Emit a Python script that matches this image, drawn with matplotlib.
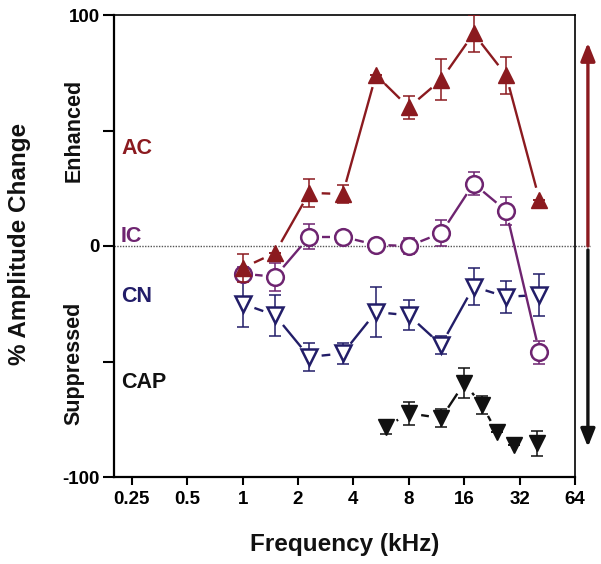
import numpy as np
import matplotlib
matplotlib.use('Agg')
import matplotlib.pyplot as plt

plt.rcParams['font.family'] = ['Liberation Sans', 'DejaVu Sans']
plt.rcParams['font.weight'] = 'bold'

# data (% amplitude change vs frequency in kHz)
freq = [1, 1.5, 2.3, 3.5, 5.3, 8, 12, 18, 27, 41]
ac = [-9.5, -3, 23, 22.5, 74, 60, 72, 92, 74, 20]
ac_err = [6, 0, 6, 4, 0, 5, 9, 8, 8, 0]
ic = [-12, -13.3, 4, 4, 0.5, 0, 5.6, 27, 15.3, -46]
ic_err = [3, 6, 5.5, 0, 0, 3.5, 5.5, 5, 6, 5]
cn = [-25, -30, -48, -46.5, -28.6, -30, -42.8, -17.6, -22, -21.2]
cn_err = [10, 9, 6, 4.5, 11, 6.5, 4, 8, 7, 9]
cap_freq = [6, 8, 12, 16, 20, 24, 30, 40]
cap = [-78.4, -72.4, -74.5, -59.4, -68.8, -80.5, -86, -85.4]
cap_err = [3, 5, 4, 6.5, 4, 0, 0, 5.5]

xticks = [0.25, 0.5, 1, 2, 4, 8, 16, 32, 64]
xticklabels = ['0.25', '0.5', '1', '2', '4', '8', '16', '32', '64']

red = '#8b1a1f'
purple = '#6e2470'
navy = '#221d68'
black = '#111111'

W, H = 601, 564
fig = plt.figure(figsize=(W / 100, H / 100), dpi=100)
ax = fig.add_axes([114 / W, 1 - 477 / H, 461 / W, 462 / H])
ax.set_xscale('log', base=2)
ax.set_xlim(0.2, 64)
ax.set_ylim(-100, 100)


def gapped_line(x, y, color, trim=12, z=2):
    # connect points with segments that stop short of the markers
    pts = ax.transData.transform(np.column_stack([x, y]))
    inv = ax.transData.inverted()
    for p, q in zip(pts[:-1], pts[1:]):
        d = q - p
        L = np.hypot(*d)
        if L <= 2 * trim:
            continue
        u = d / L
        seg = inv.transform(np.array([p + u * trim, q - u * trim]))
        ax.plot(seg[:, 0], seg[:, 1], color=color, lw=1.7, zorder=z,
                solid_capstyle='butt')


def series(x, y, err, color, marker, ms, filled, z):
    yerr = np.array(err, dtype=float)
    ax.errorbar(x, y, yerr=yerr, fmt='none', ecolor=color, elinewidth=1.1,
                capsize=4.5, capthick=1.1, zorder=z)
    gapped_line(x, y, color, trim=12.5, z=z)
    ax.plot(x, y, linestyle='none', marker=marker, markersize=ms,
            markerfacecolor=color if filled else 'white',
            markeredgecolor=color, markeredgewidth=1.0 if filled else 1.8,
            zorder=z + 0.5)


ax.axhline(0, xmin=0, xmax=1.033, color='#555555', lw=1.0, ls=(0, (1, 1)),
           clip_on=False, zorder=1)

series(freq, cn, cn_err, navy, 'v', 12, False, 3)
series(cap_freq, cap, cap_err, black, 'v', 11, True, 3)
series(freq, ic, ic_err, purple, 'o', 12, False, 4)
series(freq, ac, ac_err, red, '^', 11.5, True, 5)

ax.set_xticks(xticks)
ax.set_xticklabels(xticklabels)
ax.xaxis.set_minor_locator(matplotlib.ticker.NullLocator())
ax.set_yticks([-100, -50, 0, 50, 100])
ax.set_yticklabels(['-100', '', '0', '', '100'])
ax.tick_params(axis='x', length=6, width=1.5, pad=4, labelsize=13.5)
ax.tick_params(axis='y', length=8, width=1.5, pad=2, labelsize=13.5)
for s in ['left', 'bottom']:
    ax.spines[s].set_linewidth(1.6)
for s in ['top', 'right']:
    ax.spines[s].set_linewidth(1.2)

# arrows on the right
tr = ax.get_yaxis_transform()
astyle = '-|>,head_length=0.45,head_width=0.18'
ax.annotate('', xy=(1.028, 88), xytext=(1.028, 0), xycoords=tr, textcoords=tr,
            arrowprops=dict(arrowstyle=astyle, color=red, lw=2.4,
                            mutation_scale=24, shrinkA=0, shrinkB=0),
            annotation_clip=False)
ax.annotate('', xy=(1.028, -87), xytext=(1.028, -1.7), xycoords=tr, textcoords=tr,
            arrowprops=dict(arrowstyle=astyle, color=black, lw=2.4,
                            mutation_scale=24, shrinkA=0, shrinkB=0),
            annotation_clip=False)


def ft(px, py, s, **kw):
    fig.text(px / W, 1 - py / H, s, fontweight='bold', **kw)


ft(121, 148, 'AC', color=red, fontsize=15.5, ha='left', va='center')
ft(121, 237, 'IC', color=purple, fontsize=15.5, ha='left', va='center')
ft(121, 296, 'CN', color=navy, fontsize=15.5, ha='left', va='center')
ft(121, 382, 'CAP', color=black, fontsize=15.5, ha='left', va='center')
ft(74, 130, 'Enhanced', color='#111111', fontsize=15.5, rotation=90,
   ha='center', va='center')
ft(74, 363, 'Suppressed', color='#111111', fontsize=15.5, rotation=90,
   ha='center', va='center')
ft(20, 244, '% Amplitude Change', color='#111111', fontsize=17.5, rotation=90,
   ha='center', va='center')
ft(345, 544, 'Frequency (kHz)', color='#111111', fontsize=17.5,
   ha='center', va='center')

fig.savefig('out.png', dpi=100)
